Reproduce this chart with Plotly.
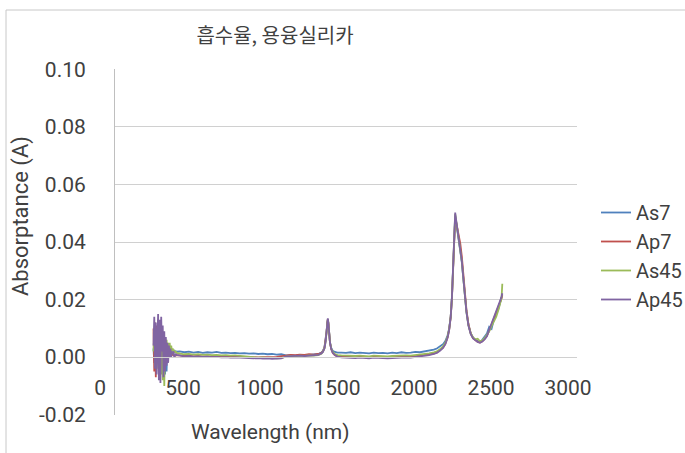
import plotly.graph_objects as go

# Wavelength grid (nm) shared by all four spectra
wavelength = [
    250, 255, 260, 265, 270, 275, 280, 285, 290, 295, 300, 305, 310, 315, 320, 325,
    330, 335, 340, 345, 350, 355, 360, 365, 370, 375, 380, 385, 390, 395, 400,
    420, 450, 480, 510, 540, 570, 600, 630, 660, 690, 720, 750, 780, 810, 840, 870,
    900, 930, 960, 990, 1020, 1050, 1080, 1110, 1140, 1170, 1200, 1230, 1260, 1290,
    1320, 1340,
    1350, 1360, 1368, 1374, 1378, 1382, 1386, 1390, 1396, 1404, 1414, 1428, 1445,
    1470, 1500, 1530, 1560, 1590, 1620, 1650, 1680, 1710, 1740, 1770, 1800, 1830,
    1860, 1890, 1920, 1950, 1980, 2010, 2040, 2070,
    2090, 2110, 2130, 2145, 2160, 2170, 2180, 2188, 2195, 2200, 2205, 2209, 2213,
    2218, 2225, 2233, 2242, 2252, 2262, 2272, 2282, 2295, 2310, 2325, 2340, 2355,
    2370, 2385, 2400, 2415, 2430, 2445, 2460, 2475, 2490, 2500, 2510, 2515,
]

as7 = [
    0.003, -0.002, 0.006, -0.004, 0.004, 0.000, 0.005, -0.003, 0.004, 0.001, 0.003,
    -0.002, 0.004, 0.000, 0.003, -0.006, 0.003, -0.005, 0.004, 0.001, 0.003, 0.002,
    0.0025, 0.002, 0.0025, 0.002, 0.002, 0.0022, 0.0018, 0.002, 0.0019,
    0.0020, 0.0017, 0.0019, 0.0016, 0.0018, 0.0015, 0.0017, 0.0016, 0.0018, 0.0015,
    0.0016, 0.0014, 0.0015, 0.0013, 0.0014, 0.0012, 0.0013, 0.0011, 0.0012, 0.0010,
    0.0011, 0.0009, 0.0010, 0.0006, 0.0007, 0.0005, 0.0007, 0.0006, 0.0008, 0.0009,
    0.0011, 0.0016,
    0.0022, 0.0034, 0.0058, 0.0090, 0.0118, 0.0130, 0.0115, 0.0085, 0.0052, 0.0032,
    0.0022, 0.0018, 0.0016,
    0.0016, 0.0015, 0.0017, 0.0014, 0.0016, 0.0015, 0.0013, 0.0016, 0.0014, 0.0015,
    0.0013, 0.0016, 0.0014, 0.0017, 0.0015, 0.0016, 0.0018, 0.0017, 0.0020, 0.0022,
    0.0026,
    0.0030, 0.0036, 0.0045, 0.0056, 0.0076, 0.0100, 0.0142, 0.0210, 0.0305, 0.0392,
    0.0462, 0.0492, 0.0478, 0.0458, 0.0435, 0.0410, 0.0380, 0.0330, 0.0272, 0.0208,
    0.0158, 0.0112, 0.0083, 0.0068, 0.0060, 0.0056, 0.0054, 0.0060, 0.0072, 0.0082,
    0.0105, 0.0098, 0.0130, 0.0148, 0.0168, 0.0188, 0.0205, 0.0218,
]

ap7 = [
    0.010, -0.005, 0.012, -0.007, 0.011, 0.003, 0.013, -0.006, 0.009, -0.004, 0.008,
    -0.003, 0.006, -0.002, 0.005, -0.001, 0.003, 0.000, 0.002, 0.000, 0.0015, 0.0005,
    0.001, 0.0005, 0.001, 0.0008, 0.0006, 0.0008, 0.0005, 0.0007, 0.0006,
    0.0006, 0.0004, 0.0005, 0.0003, 0.0004, 0.0002, 0.0003, 0.0002, 0.0003, 0.0001,
    0.0002, 0.0001, 0.0002, 0.0000, 0.0001, 0.0000, 0.0001, -0.0001, 0.0000, -0.0001,
    0.0000, 0.0001, 0.0003, 0.0006, 0.0008, 0.0007, 0.0009, 0.0008, 0.0010, 0.0009,
    0.0011, 0.0015,
    0.0020, 0.0032, 0.0056, 0.0088, 0.0117, 0.0131, 0.0116, 0.0084, 0.0050, 0.0028,
    0.0014, 0.0007, 0.0003,
    0.0002, 0.0001, 0.0002, 0.0000, 0.0001, 0.0000, -0.0001, 0.0001, 0.0000, 0.0001,
    -0.0001, 0.0000, 0.0001, 0.0000, 0.0002, 0.0001, 0.0003, 0.0004, 0.0006, 0.0008,
    0.0012,
    0.0016, 0.0023, 0.0033, 0.0046, 0.0069, 0.0096, 0.0140, 0.0205, 0.0300, 0.0385,
    0.0455, 0.0485, 0.0475, 0.0460, 0.0440, 0.0420, 0.0395, 0.0350, 0.0290, 0.0222,
    0.0165, 0.0115, 0.0082, 0.0066, 0.0058, 0.0053, 0.0051, 0.0055, 0.0063, 0.0074,
    0.0092, 0.0112, 0.0132, 0.0150, 0.0172, 0.0190, 0.0205, 0.0215,
]

as45 = [
    0.002, 0.008, -0.003, 0.006, 0.001, 0.009, -0.004, 0.007, -0.002, 0.010, -0.006,
    0.006, -0.008, 0.005, -0.010, 0.007, 0.000, 0.006, 0.001, 0.005, 0.002, 0.005,
    0.001, 0.004, 0.002, 0.003, 0.002, 0.0025, 0.0015, 0.002, 0.0015,
    0.0012, 0.0010, 0.0011, 0.0009, 0.0010, 0.0008, 0.0009, 0.0007, 0.0008, 0.0006,
    0.0007, 0.0005, 0.0006, 0.0004, 0.0003, 0.0001, 0.0000, -0.0002, -0.0001, -0.0003,
    -0.0002, -0.0004, -0.0003, 0.0002, 0.0004, 0.0003, 0.0005, 0.0004, 0.0006, 0.0005,
    0.0007, 0.0012,
    0.0019, 0.0031, 0.0055, 0.0089, 0.0118, 0.0132, 0.0117, 0.0085, 0.0051, 0.0030,
    0.0018, 0.0011, 0.0007,
    0.0006, 0.0005, 0.0006, 0.0004, 0.0005, 0.0004, 0.0003, 0.0005, 0.0004, 0.0005,
    0.0003, 0.0004, 0.0005, 0.0004, 0.0006, 0.0005, 0.0007, 0.0008, 0.0010, 0.0013,
    0.0017,
    0.0020, 0.0027, 0.0037, 0.0050, 0.0072, 0.0098, 0.0141, 0.0208, 0.0306, 0.0395,
    0.0465, 0.0497, 0.0482, 0.0462, 0.0438, 0.0412, 0.0383, 0.0333, 0.0273, 0.0209,
    0.0157, 0.0111, 0.0082, 0.0068, 0.0062, 0.0064, 0.0055, 0.0058, 0.0066, 0.0078,
    0.0090, 0.0108, 0.0125, 0.0140, 0.0165, 0.0185, 0.0205, 0.0255,
]

ap45 = [
    0.004, 0.014, -0.004, 0.012, -0.006, 0.010, 0.015, -0.008, 0.013, -0.009, 0.014,
    0.002, 0.011, -0.007, 0.009, -0.005, 0.007, -0.003, 0.005, -0.002, 0.004, 0.000,
    0.003, 0.000, 0.002, 0.001, 0.002, 0.000, 0.001, 0.001, 0.0008,
    0.0005, 0.0003, 0.0004, 0.0002, 0.0003, 0.0001, 0.0002, 0.0000, 0.0001, -0.0001,
    0.0000, -0.0002, -0.0001, -0.0002, -0.0003, -0.0002, -0.0004, -0.0003, -0.0005,
    -0.0004, -0.0006, -0.0005, -0.0004, 0.0003, 0.0004, 0.0003, 0.0005, 0.0004,
    0.0005, 0.0006, 0.0008, 0.0013,
    0.0018, 0.0030, 0.0055, 0.0090, 0.0120, 0.0135, 0.0118, 0.0085, 0.0050, 0.0028,
    0.0015, 0.0007, 0.0002,
    -0.0001, -0.0002, -0.0001, -0.0003, -0.0002, -0.0003, -0.0004, -0.0002, -0.0003,
    -0.0002, -0.0004, -0.0003, -0.0002, -0.0003, -0.0001, -0.0002, 0.0000, 0.0002,
    0.0004, 0.0007, 0.0011,
    0.0015, 0.0022, 0.0032, 0.0045, 0.0068, 0.0095, 0.0140, 0.0210, 0.0310, 0.0400,
    0.0470, 0.0502, 0.0485, 0.0465, 0.0440, 0.0415, 0.0385, 0.0335, 0.0275, 0.0210,
    0.0158, 0.0110, 0.0080, 0.0065, 0.0058, 0.0053, 0.0050, 0.0054, 0.0062, 0.0072,
    0.0095, 0.0115, 0.0135, 0.0155, 0.0175, 0.0195, 0.0210, 0.0222,
]

series_names = ["As7", "Ap7", "As45", "Ap45"]
series_colors = ["#4f81bd", "#c0504d", "#9bbb59", "#8064a2"]
series_values = [as7, ap7, as45, ap45]

x_tickvals = [0, 500, 1000, 1500, 2000, 2500, 3000]
x_ticktext = ["0\u2007", "500", "1000", "1500", "2000", "2500", "3000"]
y_tickvals = [-0.02, 0.00, 0.02, 0.04, 0.06, 0.08, 0.10]
y_ticktext = ["-0.02", "0.00", "0.02", "0.04", "0.06", "0.08", "0.10"]

FONT = "Roboto, 'Noto Sans CJK KR', sans-serif"
TEXT = "#404040"

fig = go.Figure()
for name, color, vals in zip(series_names, series_colors, series_values):
    fig.add_trace(go.Scatter(
        x=wavelength, y=vals, name=name, mode="lines",
        line=dict(color=color, width=1.8),
    ))

fig.update_layout(
    width=685, height=453,
    margin=dict(l=115, r=108, t=69, b=38, autoexpand=False),
    paper_bgcolor="white", plot_bgcolor="white",
    font=dict(family=FONT, size=21, color=TEXT),
    title=dict(
        text="흡수율, 용융실리카",
        font=dict(family="'Noto Sans CJK KR', sans-serif", size=20, color=TEXT),
        x=275 / 685, xanchor="center", y=1 - 36 / 453, yanchor="middle",
    ),
    showlegend=True,
    legend=dict(
        x=(596 - 115) / 462, xanchor="left",
        y=(415 - 193) / 346, yanchor="top",
        font=dict(size=20, color=TEXT), bgcolor="rgba(0,0,0,0)",
        tracegroupgap=0,
    ),
    xaxis=dict(
        range=[0, 3000], tickvals=x_tickvals, ticktext=x_ticktext,
        showgrid=False, zeroline=False,
        showline=True, linecolor="#d0d0d0", linewidth=1,
        anchor="free", position=(415 - 357) / 346,
        ticks="", ticklabelshift=-9, ticklabelstandoff=12,
    ),
    yaxis=dict(
        range=[-0.0201, 0.1001], tickvals=y_tickvals, ticktext=y_ticktext,
        showgrid=True, gridcolor="#d0d0d0", gridwidth=1, zeroline=False,
        showline=True, linecolor="#bfbfbf", linewidth=1,
        ticks="", ticklabelstandoff=24,
    ),
    annotations=[
        dict(text="Absorptance (A)", xref="paper", yref="paper",
             x=(21 - 115) / 462, y=(415 - 216) / 346, textangle=-90,
             showarrow=False, xanchor="center", yanchor="middle",
             font=dict(size=22, color=TEXT)),
        dict(text="Wavelength (nm)", xref="paper", yref="paper",
             x=(270 - 115) / 462, y=(415 - 432) / 346,
             showarrow=False, xanchor="center", yanchor="middle",
             font=dict(size=21, color=TEXT)),
    ],
    shapes=[
        # outer chart frame
        dict(type="rect", xref="paper", yref="paper",
             x0=(6 - 115) / 462, x1=(700 - 115) / 462,
             y0=(415 - 470) / 346, y1=(415 - 10) / 346,
             line=dict(color="#c8c8c8", width=1), fillcolor="rgba(0,0,0,0)",
             layer="below"),
    ],
)

fig.write_html("out.html")
